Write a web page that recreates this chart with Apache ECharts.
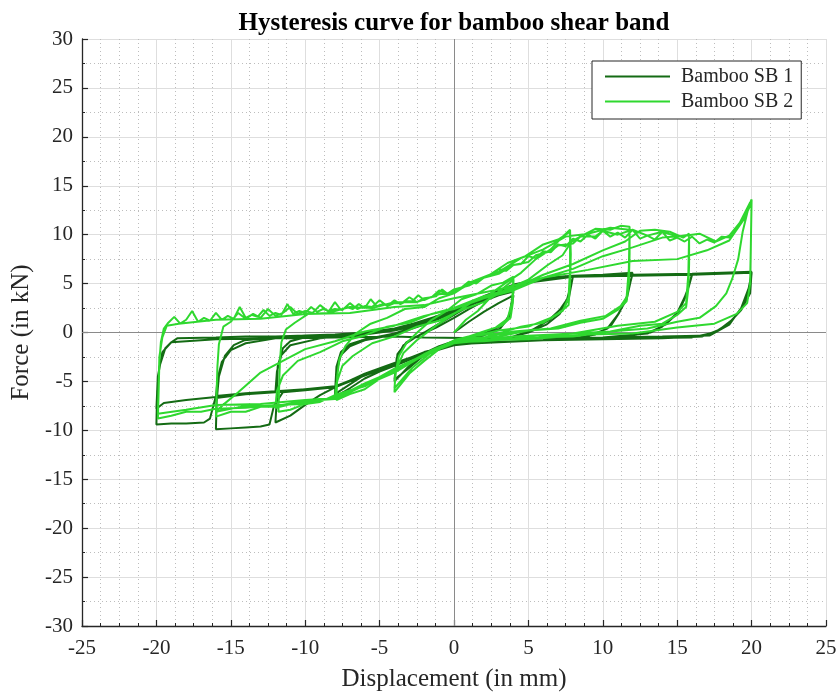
<!DOCTYPE html>
<html>
<head>
<meta charset="utf-8">
<script src="https://cdn.jsdelivr.net/npm/echarts/dist/echarts.min.js"></script>
<style>html,body{margin:0;padding:0;background:#fff}#c{width:840px;height:694px}</style>
</head>
<body>
<div id="c"></div>
<script>
// ---------------- data ----------------
const titleText = 'Hysteresis curve for bamboo shear band';
const xName = 'Displacement (in mm)';
const yName = 'Force (in kN)';
const seriesNames = ['Bamboo SB 1', 'Bamboo SB 2'];

// Bamboo SB 1 : [displacement mm, force kN], one array per amplitude
const sb1Cycle4 = [
[0,0],[1,1.1],[2,2.1],[3,3.0],[4,3.8],
[3.8,2.0],[3.3,0.8],[2.2,0],[1,-0.5],[0,-0.9],[-1,-1.4],[-2,-2.1],[-3,-3.4],[-4,-5.0],
[-3.85,-2.6],[-3.4,-1.3],[-2.5,-0.4],[-1.2,0.5],[0,1.5],[1,2.4],[2,3.2],[3,3.8],[4,4.2],
[3.7,1.6],[3.1,0.4],[2,-0.3],[0,-1.0],[-1,-1.5],[-2,-2.3],[-3,-3.6],[-4,-4.8],
[-3.8,-2.2],[-3.2,-1.0],[-2,0],[-1,0.9],[0,1.8],[1,2.7],[2,3.5],[3,4.2],[4,4.7],[5,5.2],[6,5.5],[7,5.7],[8,5.8]
];
const sb1Cycle8 = [
[7.8,4.5],[7.6,3.4],[7.1,2.3],[6.4,1.3],[5.3,0.3],[4,-0.4],[2,-0.9],[0,-1.2],[-1,-1.6],[-2,-2.1],[-3,-2.6],[-4,-3.1],[-5,-3.7],[-6,-4.3],[-7,-5.3],[-8,-6.3],
[-7.9,-3.5],[-7.6,-2.0],[-7,-1.2],[-6,-0.7],[-5,-0.4],[-4,-0.1],[-3,0.4],[-2,0.9],[-1,1.5],[0,2.1],[1,2.8],[2,3.5],[3,4.2],[4,4.7],[5,5.2],[6,5.5],[7,5.7],[8,5.8],
[7.7,3.4],[7.1,1.9],[6.2,0.8],[5,0],[3.5,-0.6],[2,-0.9],[0,-1.2],[-2,-2.2],[-4,-3.4],[-5,-4.0],[-6,-4.7],[-7,-5.7],[-8,-6.6],
[-7.9,-4],[-7.6,-2.3],[-7,-1.4],[-6,-0.8],[-4,-0.2],[-2,0.8],[0,2.0],[2,3.4],[4,4.7],[6,5.5],[8,5.8],[10,5.9],[12,6.0]
];
const sb1Cycle12 = [
[11.8,4.8],[11.6,3.6],[11.1,2.0],[10.5,0.6],[9.5,-0.2],[8,-0.6],[6,-0.8],[4,-0.9],[2,-1.0],[0,-1.3],[-2,-2.2],[-4,-3.2],[-6,-4.3],[-8,-5.6],[-9,-6.4],[-10,-7.4],[-11,-8.5],[-12,-9.2],
[-11.9,-6.5],[-11.85,-3.5],[-11.5,-1.6],[-11.0,-0.9],[-10,-0.5],[-8,-0.3],[-6,-0.1],[-4,0.3],[-2,1.0],[0,2.2],[2,3.5],[4,4.8],[6,5.5],[8,5.8],[10,5.9],[12,6.1],
[11.6,3.4],[11.0,1.8],[10.3,0.4],[9,-0.4],[6,-0.8],[3,-1.0],[0,-1.2],[-2,-2.1],[-4,-3.1],[-6,-4.2],[-8,-5.6],[-10,-5.8],[-12,-6.1],
[-11.9,-4.0],[-11.6,-2.3],[-11,-1.3],[-9,-0.6],[-6,-0.2],[-4,0.2],[-2,0.9],[0,2.3],[2,3.6],[4,4.8],[6,5.5],[8,5.7],[10,5.8],[12,5.9],[14,5.9],[16,5.9]
];
const sb1Cycle16 = [
[15.8,4.8],[15.5,3.6],[15,2.0],[14,0.6],[13.2,0],[11,-0.5],[8,-0.7],[4,-0.9],[0,-1.2],[-2,-2.2],[-4,-3.2],[-6,-4.4],[-8,-5.6],[-10,-5.9],[-11.5,-6.1],[-12.1,-7.5],[-12.4,-9.4],[-13,-9.6],[-14,-9.7],[-15,-9.8],[-16,-9.9],
[-15.95,-7],[-15.8,-4.5],[-15.4,-2.4],[-14.8,-1.3],[-14.1,-0.8],[-12,-0.5],[-10,-0.3],[-8,-0.2],[-6,0],[-4,0.4],[-2,1.1],[0,2.2],[2,3.6],[4,4.9],[6,5.5],[8,5.8],[12,5.9],[16,6.0],
[15.6,3.8],[15.1,2.1],[14.2,0.8],[13,-0.1],[10,-0.5],[6,-0.8],[2,-1.0],[0,-1.2],[-2,-2.2],[-4,-3.3],[-6,-4.4],[-8,-5.5],[-10,-5.8],[-12,-6.0],[-14,-6.3],[-16,-6.7],
[-15.9,-4.8],[-15.6,-3.0],[-15,-1.8],[-14,-1.1],[-12,-0.6],[-8,-0.3],[-4,0.3],[0,2.2],[4,4.9],[8,5.7],[12,5.8],[16,5.9],[18,6.0],[20,6.1]
];
const sb1Cycle20 = [
[19.9,4.3],[19.4,2.6],[18.7,1.3],[17.8,0.25],[16.7,-0.4],[14,-0.6],[10,-0.7],[6,-0.8],[2,-1.0],[0,-1.2],[-2,-2.0],[-4,-3.2],[-6,-4.3],[-8,-5.5],[-10,-5.8],[-12,-6.0],[-14,-6.2],[-16,-6.5],[-16.4,-8.8],[-16.8,-9.2],[-18,-9.3],[-19,-9.3],[-20,-9.4],
[-19.95,-6],[-19.8,-3.5],[-19.4,-1.6],[-19,-1.0],[-18.6,-0.6],[-16,-0.5],[-14,-0.4],[-12,-0.4],[-10,-0.3],[-8,-0.2],[-6,0],[-4,0.4],[-2,1.2],[0,2.3],[2,3.7],[4,4.9],[6,5.5],[8,5.8],[12,5.9],[16,6.0],[20,6.2],
[19.9,4.0],[19.3,2.3],[18.5,1.0],[17.5,0],[16,-0.5],[12,-0.6],[8,-0.7],[4,-0.9],[0,-1.2],[-2,-2.1],[-4,-3.3],[-6,-4.4],[-8,-5.6],[-10,-5.9],[-12,-6.1],[-14,-6.3],[-16,-6.6],[-18,-6.9],[-19.5,-7.2],[-20,-7.8],
[-19.9,-4.5],[-19.6,-2.0],[-19,-1.0],[-16,-0.7],[-12,-0.6],[-8,-0.5],[-4,-0.4],[-2,-0.5],[2,-0.6],[6,-0.6],[10,-0.5],[14,-0.4],[17.2,-0.3],[18.5,0.8],[19.3,2.5],[19.8,4.5],[20,6.0]
];

// Bamboo SB 2
const sb2Cycle4 = [
[0,0],[0.8,1.3],[1.6,2.2],[2.4,3.5],[3.2,4.4],[4,5.4],
[3.95,3.0],[3.8,1.5],[3.2,0.7],[2,0.1],[1,-0.4],[0,-0.9],[-1,-1.7],[-2,-2.9],[-3,-4.2],[-4,-6.1],
[-3.95,-4.2],[-3.7,-2.4],[-3.2,-1.1],[-2.4,0.1],[-1.5,1.3],[-0.5,2.2],[0.5,3.4],[1.5,3.9],[2.5,4.8],[3.3,5.1],[4,5.7],
[3.9,3.1],[3.6,1.4],[2.8,0.5],[1.5,-0.2],[0,-0.8],[-1.5,-2.0],[-2.8,-3.6],[-4,-5.7],
[-3.9,-3.8],[-3.4,-2.1],[-2.5,-0.8],[-1.2,0.7],[0,1.9],[1.2,3.1],[2.4,3.9],[3.5,5.1],[4.5,6.1],[5.5,7.5],[6.5,8.5],[7.3,9.8],[7.8,10.5]
];
const sb2Cycle8 = [
[7.85,8.0],[7.8,5.0],[7.7,2.8],[7,1.9],[6,1.0],[4.5,0.6],[3,-0.1],[1.5,-0.3],[0,-0.9],[-1.5,-1.8],[-3,-3.1],[-4.5,-4.2],[-6,-5.8],[-7,-6.3],[-7.9,-6.9],
[-7.85,-4.5],[-7.7,-2.7],[-7.3,-1.4],[-6.6,-0.1],[-5.6,0.9],[-4.5,1.5],[-3.3,2.4],[-2,2.6],[-1,3.5],[0,4.0],[1.2,5.2],[2.4,5.9],[3.6,7.1],[4.8,7.8],[6,9.0],[7,9.5],[7.8,10.3],
[7.8,6.5],[7.7,3.6],[7.3,2.2],[6.5,1.5],[5,0.6],[3,0.2],[1,-0.5],[0,-0.8],[-2,-2.3],[-4,-3.7],[-6,-5.5],[-7.2,-6.0],[-8,-6.6],
[-7.9,-5.2],[-7.5,-3.4],[-6.8,-2.4],[-5.5,-1.1],[-4,-0.4],[-2.5,0.6],[-1,1.2],[0.5,2.3],[2,3.1],[3.5,4.4],[5,5.4],[6.3,6.9],[7.3,7.9],[7.9,9.3],[8.6,9.9],[9.5,10.6],[10.5,10.5],[11.2,10.9],[11.8,10.8]
];
const sb2Cycle12 = [
[11.8,8.0],[11.75,5.0],[11.6,3.2],[11,2.3],[10,1.4],[8.5,1.0],[7,0.4],[5,0.2],[3,-0.4],[1,-0.6],[0,-1.0],[-2,-2.4],[-4,-3.7],[-6,-5.4],[-8,-6.4],[-9,-7.1],[-10,-7.3],[-11,-7.9],[-11.8,-8.1],
[-11.75,-5.5],[-11.7,-3.0],[-11.6,-1.0],[-11.3,0.3],[-10.7,1.0],[-9.8,1.9],[-8.5,2.0],[-7,2.6],[-5.5,2.5],[-4,3.1],[-2.5,3.1],[-1,3.9],[0,4.1],[1.5,5.3],[3,6.2],[4.5,7.6],[6,8.5],[7.5,9.8],[9,10.1],[10.5,10.7],[11.8,10.5],
[11.75,6.5],[11.6,3.6],[11.2,2.7],[10.2,1.7],[8.5,1.2],[6.5,0.4],[4,0.1],[2,-0.5],[0,-1.0],[-2,-2.3],[-4,-4.0],[-6,-5.3],[-8,-6.7],[-10,-7.0],[-12,-7.7],
[-11.9,-6.0],[-11.5,-4.4],[-10.5,-2.9],[-9,-2.0],[-7.5,-0.9],[-6,-0.3],[-4.5,0.6],[-3,1.0],[-1.5,1.9],[0,2.5],[2,3.7],[4,4.5],[6,5.9],[8,7.0],[10,8.4],[11.5,9.3],[12.5,10.4],[13.5,10.5],[14.5,10.3],[15.4,9.7],[15.8,10.1]
];
const sb2Cycle16 = [
[15.8,7.0],[15.75,4.5],[15.6,2.6],[15,1.8],[14,0.9],[12.5,0.7],[10.5,0.1],[8,-0.1],[5,-0.6],[2,-0.7],[0,-1.0],[-2,-2.2],[-4,-3.9],[-6,-5.2],[-8,-6.7],[-10,-7.1],[-12,-7.6],[-13,-7.6],[-14,-8.1],[-15,-8.1],[-16,-8.6],
[-15.95,-6.0],[-15.9,-3.5],[-15.8,-1.2],[-15.5,0.6],[-15,1.1],[-14.5,2.0],[-14,1.4],[-13.5,1.9],[-13,1.5],[-12.5,2.4],[-12,1.7],[-11.5,2.0],[-11,2.6],[-10.5,1.9],[-10,2.2],[-9.5,2.0],[-9,2.8],[-8.5,2.2],[-8,2.4],[-7.5,2.3],[-7,3.0],[-6.5,2.4],[-6,2.7],[-5.5,2.6],[-5,3.3],[-4.5,2.7],[-4,3.0],[-3.5,3.0],[-3,3.6],[-2.5,3.1],[-2,3.5],[-1.5,3.6],[-1,4.3],[-0.5,3.9],[0,4.4],[1,4.8],[2,5.6],[3,6.0],[4,6.9],[5,7.2],[5.5,7.9],[6.5,8.3],[7,8.9],[8,9.1],[8.5,9.8],[9.5,9.8],[10,10.4],[11,10.0],[12,10.5],[13,9.9],[14,10.3],[15,9.8],[15.8,10.0],
[15.75,6.0],[15.6,3.0],[15,2.1],[13.5,1.1],[11,0.7],[8,-0.1],[4,-0.4],[0,-1.1],[-2,-2.3],[-4,-4.1],[-6,-5.4],[-8,-6.8],[-10,-7.0],[-12,-7.5],[-14,-7.5],[-16,-8.1],
[-15.6,-7.5],[-14.5,-6.1],[-13,-4.1],[-11.5,-2.9],[-10,-1.7],[-8,-0.9],[-6,0.1],[-4,0.7],[-2,1.7],[0,2.4],[2,3.5],[4,4.3],[6,5.6],[8,6.5],[10,7.8],[12,8.7],[14,9.7],[15.5,9.9],[16.5,10.1],[17.6,9.3],[18.5,9.9],[19.2,11.2],[19.9,13.3]
];
const sb2Cycle20 = [
[19.7,12.2],[19.4,10.3],[19.1,7.5],[18.7,5.5],[18.3,4.0],[17.6,2.7],[16.5,1.5],[15,1.1],[13,0.4],[10.5,0.1],[8,-0.4],[5,-0.5],[2,-0.9],[0,-1.0],[-2,-2.4],[-4,-3.7],[-6,-5.4],[-8,-6.6],[-10,-7.3],[-12,-7.4],[-14,-7.7],[-16,-7.8],[-17,-8.1],[-18,-8.1],[-19,-8.5],[-19.9,-8.8],
[-19.85,-6.0],[-19.8,-3.0],[-19.7,-1.0],[-19.5,0.4],
[-19.2,1.0],[-18.8,1.6],[-18.4,0.9],[-18.0,1.3],[-17.6,2.2],[-17.2,1.1],[-16.8,1.5],[-16.4,1.2],[-16.0,2.0],[-15.6,1.3],[-15.2,1.7],[-14.8,1.4],[-14.4,2.6],[-14.0,1.5],[-13.6,1.8],[-13.2,1.6],[-12.8,2.3],[-12.4,1.7],[-12.0,2.0],[-11.6,1.8],[-11.2,2.9],[-10.8,1.9],[-10.4,2.2],[-10.0,2.0],[-9.6,2.6],[-9.2,2.1],[-8.8,2.4],[-8.4,2.2],[-8.0,3.1],[-7.6,2.3],[-7.2,2.6],[-6.8,2.4],[-6.4,2.9],[-6.0,2.5],[-5.6,3.4],[-5.2,2.7],[-4.8,2.9],[-4.4,2.8],[-4.0,3.3],[-3.6,2.9],[-3.2,3.2],[-2.8,3.2],[-2.4,3.8],[-2.0,3.3],[-1.6,3.6],[-1.2,3.7],[-0.8,4.4],[-0.4,3.9],[0,4.2],
[0.5,4.6],[1,5.2],[1.5,5.0],[2,5.6],[2.5,5.8],[3,6.5],[3.5,6.3],[4,6.9],[4.5,7.0],[5,7.8],[5.5,7.6],[6,8.3],[6.5,8.2],[7,9.0],[7.5,8.8],[8,9.6],[8.5,9.3],[9,10.0],[9.5,9.6],[10,10.4],[10.5,9.8],[11,10.2],[11.5,9.7],[12,10.5],[12.5,9.6],[13,9.9],[13.5,9.5],[14,10.3],[14.5,9.4],[15,9.7],[15.5,9.3],[16,9.8],[16.5,9.1],[17,9.5],[17.5,9.2],[18,9.8],[18.5,9.7],[19,10.8],[19.5,11.8],[20,13.6],
[19.95,9.0],[19.9,5.0],[19.7,3.0],[19,1.9],[17.5,0.9],[15,0.5],[12,-0.1],[9,-0.2],[5,-0.7],[2,-0.8],[0,-1.1],[-2,-2.3],[-4,-4.0],[-6,-5.3],[-8,-6.7],[-10,-6.9],[-13,-7.3],[-16,-7.4],[-18,-7.9],[-19.9,-8.3],
[-19.85,-5.5],[-19.8,-2.5],[-19.6,-0.5],[-19.3,0.7],[-18.5,0.9],[-16,1.3],[-13,1.4],[-10,1.9],[-7,2.0],[-4,2.6],[-2,2.8],[0,3.5],[3,4.4],[6,5.6],[9,6.4],[12,7.3],[15,7.5],[17,8.4],[18.5,9.4],[19.5,11.6],[20,13.3]
];

const sb1 = [].concat(sb1Cycle4, sb1Cycle8, sb1Cycle12, sb1Cycle16, sb1Cycle20);
const sb2 = [].concat(sb2Cycle4, sb2Cycle8, sb2Cycle12, sb2Cycle16, sb2Cycle20);

// ---------------- chart ----------------
const serif = '"Liberation Serif", "Times New Roman", serif';
const axisColor = '#262626';
const sb1Color = '#146b14';
const sb2Color = '#2fd82f';
const chart = echarts.init(document.getElementById('c'), null, {renderer: 'canvas'});

function axisCommon(minorSplit) {
  return {
    type: 'value',
    axisLine: {show: true, onZero: false, lineStyle: {color: axisColor, width: 1.3}},
    axisTick: {show: true, inside: true, length: 6, lineStyle: {color: axisColor, width: 1.2}},
    minorTick: {show: true, splitNumber: minorSplit, length: 3, lineStyle: {color: axisColor, width: 1}},
    splitLine: {show: true, lineStyle: {color: '#dedede', width: 1}},
    minorSplitLine: {show: true, lineStyle: {color: '#bdbdbd', width: 1, type: [1, 3]}},
    axisLabel: {fontFamily: serif, fontSize: 21, color: axisColor},
    nameLocation: 'middle',
    nameTextStyle: {fontFamily: serif, fontSize: 25, color: axisColor}
  };
}

const xAxis = Object.assign(axisCommon(4), {
  min: -25, max: 25, interval: 5,
  name: xName, nameGap: 41
});
xAxis.axisLabel.margin = 12;
const yAxis = Object.assign(axisCommon(2), {
  min: -30, max: 30, interval: 5,
  name: yName, nameGap: 45
});
yAxis.axisLabel.margin = 9;

chart.setOption({
  animation: false,
  backgroundColor: '#ffffff',
  title: {
    text: titleText, left: 454, top: 11, textAlign: 'center', padding: 0,
    textStyle: {fontFamily: serif, fontWeight: 'bold', fontSize: 25, color: '#000'}
  },
  legend: {
    data: [
      {name: seriesNames[0], icon: 'path://M0,0L65,0L65,2L0,2Z', itemStyle: {color: sb1Color}},
      {name: seriesNames[1], icon: 'path://M0,0L65,0L65,2L0,2Z', itemStyle: {color: sb2Color}}
    ],
    orient: 'vertical',
    left: 592, top: 61,
    padding: [5, 8, 7, 13],
    itemGap: 4,
    itemWidth: 65, itemHeight: 2,
    backgroundColor: '#fff',
    borderColor: axisColor, borderWidth: 1, borderRadius: 0,
    textStyle: {fontFamily: serif, fontSize: 20, color: axisColor, lineHeight: 21, padding: [0, 0, 0, 6]}
  },
  grid: {left: 82, right: 14, top: 39, bottom: 68, containLabel: false, outerBoundsMode: 'none'},
  xAxis: xAxis,
  yAxis: yAxis,
  series: [
    {
      name: 'zero', type: 'line', data: [], silent: true, z: 1,
      markLine: {
        silent: true, symbol: 'none', animation: false, z: 1,
        label: {show: false},
        lineStyle: {color: '#8a8a8a', width: 1, type: 'solid'},
        data: [{xAxis: 0}, {yAxis: 0}]
      }
    },
    {
      name: seriesNames[0], type: 'line', data: sb1, symbol: 'none', z: 3,
      lineStyle: {color: sb1Color, width: 2}, itemStyle: {color: sb1Color}
    },
    {
      name: seriesNames[1], type: 'line', data: sb2, symbol: 'none', z: 4,
      lineStyle: {color: sb2Color, width: 2}, itemStyle: {color: sb2Color}
    }
  ]
});
</script>
</body>
</html>
